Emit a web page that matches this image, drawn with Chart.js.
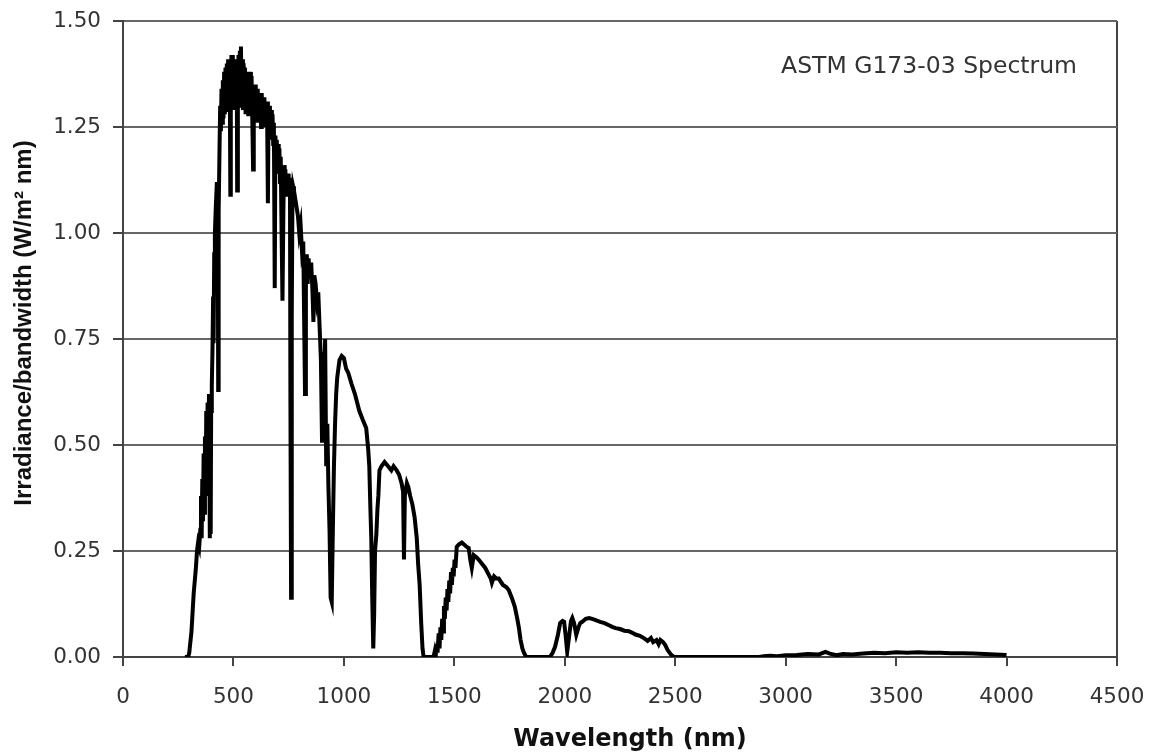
<!DOCTYPE html>
<html>
<head>
<meta charset="utf-8">
<script src="https://cdn.jsdelivr.net/npm/chart.js@4"></script>
<style>
  body { margin: 0; background: #fff; }
  canvas { display: block; }
</style>
</head>
<body>
<canvas id="myChart" width="1152" height="755"></canvas>
<script>
// spectrum: wavelength (nm) / irradiance (W/m2 nm)
let wavelength = [
  280, 295, 300, 310, 320, 330, 335, 340, 345, 350, 353, 356, 359, 362, 365, 368, 371, 374, 377, 380,
  383, 386, 389, 391, 393, 395, 397, 399, 402, 405, 408, 410, 413, 416, 420, 425, 429, 431, 433, 437,
  440, 443, 446, 449, 452, 455, 458, 461, 464, 467, 470, 473, 476, 479, 482, 484, 486, 488, 491, 494,
  497, 500, 503, 506, 509, 512, 515, 517, 520, 523, 526, 529, 532, 534, 537, 540, 543, 546, 549, 552,
  555, 558, 561, 564, 567, 570, 573, 576, 579, 582, 585, 589, 592, 595, 598, 601, 604, 607, 610, 613,
  616, 619, 622, 625, 628, 631, 634, 637, 640, 643, 646, 649, 652, 656, 659, 662, 665, 668, 671, 674,
  677, 680, 683, 687, 690, 693, 696, 699, 702, 705, 708, 711, 714, 718, 722, 726, 729, 732, 735, 738,
  741, 744, 747, 750, 753, 756, 758, 761, 764, 767, 770, 774, 780, 786, 792, 798, 804, 810, 816, 820,
  824, 828, 832, 836, 840, 846, 852, 858, 862, 866, 872, 878, 884, 890, 896, 901, 905, 910, 915, 920,
  925, 930, 935, 940, 945, 950, 955, 960, 965, 970, 975, 980, 990, 1000, 1010, 1020, 1034, 1050, 1070, 1085,
  1101, 1110, 1115, 1120, 1124, 1128, 1133, 1137, 1141, 1147, 1152, 1156, 1161, 1170, 1184, 1200, 1215, 1225, 1239, 1250,
  1261, 1268, 1272, 1276, 1285, 1292, 1300, 1310, 1320, 1330, 1336, 1343, 1350, 1356, 1361, 1406, 1412, 1416, 1420, 1424,
  1429, 1433, 1437, 1441, 1445, 1449, 1453, 1457, 1461, 1465, 1469, 1473, 1477, 1481, 1485, 1489, 1493, 1497, 1501, 1505,
  1511, 1520, 1534, 1545, 1555, 1565, 1572, 1579, 1588, 1600, 1610, 1625, 1640, 1655, 1665, 1670, 1680, 1690, 1701, 1720,
  1735, 1746, 1760, 1774, 1785, 1792, 1800, 1808, 1815, 1825, 1933, 1945, 1956, 1968, 1979, 1990, 1997, 2004, 2011, 2020,
  2028, 2034, 2042, 2052, 2062, 2070, 2079, 2095, 2110, 2124, 2140, 2160, 2180, 2200, 2215, 2230, 2250, 2270, 2290, 2306,
  2320, 2340, 2360, 2375, 2390, 2400, 2415, 2425, 2433, 2445, 2455, 2465, 2480, 2495, 2880, 2900, 2930, 2960, 3000, 3050,
  3100, 3150, 3180, 3200, 3230, 3260, 3300, 3350, 3400, 3450, 3500, 3550, 3600, 3650, 3700, 3750, 3800, 3850, 3900, 3950,
  4000
];
let irradiance = [
  0, 0, 0.01, 0.06, 0.15, 0.21, 0.25, 0.27, 0.26, 0.30, 0.38, 0.28, 0.42, 0.32, 0.48, 0.34, 0.52, 0.38, 0.58, 0.40,
  0.60, 0.45, 0.62, 0.48, 0.28, 0.56, 0.29, 0.58, 0.64, 0.72, 0.85, 0.74, 0.95, 1.00, 1.06, 1.12, 1.05, 0.63, 1.05, 1.20,
  1.30, 1.24, 1.34, 1.26, 1.36, 1.27, 1.38, 1.28, 1.39, 1.29, 1.40, 1.30, 1.41, 1.29, 1.40, 1.30, 1.09, 1.35, 1.42, 1.30,
  1.42, 1.31, 1.41, 1.29, 1.40, 1.30, 1.39, 1.10, 1.35, 1.42, 1.30, 1.43, 1.32, 1.44, 1.31, 1.41, 1.29, 1.40, 1.30, 1.39,
  1.28, 1.38, 1.29, 1.38, 1.28, 1.37, 1.29, 1.38, 1.28, 1.37, 1.28, 1.15, 1.35, 1.27, 1.35, 1.26, 1.34, 1.27, 1.34, 1.26,
  1.33, 1.26, 1.33, 1.25, 1.33, 1.26, 1.32, 1.25, 1.32, 1.26, 1.31, 1.25, 1.31, 1.07, 1.30, 1.24, 1.30, 1.23, 1.29, 1.22,
  1.28, 1.21, 1.26, 0.87, 1.23, 1.17, 1.22, 1.16, 1.21, 1.14, 1.20, 1.12, 1.18, 1.00, 0.84, 1.05, 1.16, 1.10, 1.15, 1.09,
  1.14, 1.10, 1.14, 1.09, 1.13, 1.10, 0.60, 0.14, 0.80, 1.08, 1.11, 1.10, 1.08, 1.06, 1.04, 1.00, 1.02, 0.96, 0.98, 0.80,
  0.62, 0.90, 0.95, 0.88, 0.94, 0.90, 0.93, 0.86, 0.79, 0.90, 0.88, 0.84, 0.86, 0.78, 0.70, 0.51, 0.72, 0.60, 0.75, 0.45,
  0.55, 0.40, 0.30, 0.14, 0.13, 0.30, 0.45, 0.55, 0.62, 0.66, 0.68, 0.70, 0.71, 0.705, 0.68, 0.67, 0.645, 0.62, 0.58, 0.56,
  0.54, 0.49, 0.45, 0.35, 0.28, 0.15, 0.02, 0.10, 0.25, 0.29, 0.35, 0.38, 0.44, 0.45, 0.46, 0.45, 0.44, 0.45, 0.44, 0.43,
  0.41, 0.39, 0.23, 0.38, 0.41, 0.40, 0.38, 0.36, 0.33, 0.28, 0.22, 0.17, 0.08, 0.02, 0, 0, 0.015, 0.005, 0.03, 0.01,
  0.056, 0.02, 0.07, 0.04, 0.09, 0.06, 0.12, 0.09, 0.14, 0.11, 0.16, 0.13, 0.18, 0.15, 0.20, 0.17, 0.21, 0.19, 0.23, 0.21,
  0.26, 0.265, 0.27, 0.265, 0.26, 0.257, 0.23, 0.21, 0.24, 0.235, 0.23, 0.22, 0.21, 0.195, 0.185, 0.175, 0.19, 0.185, 0.185, 0.17,
  0.165, 0.158, 0.14, 0.118, 0.09, 0.07, 0.04, 0.02, 0.01, 0, 0, 0.01, 0.024, 0.05, 0.08, 0.085, 0.083, 0.05, 0.012, 0.05,
  0.085, 0.092, 0.08, 0.052, 0.07, 0.08, 0.083, 0.09, 0.092, 0.09, 0.087, 0.083, 0.08, 0.075, 0.071, 0.068, 0.066, 0.062, 0.061, 0.057,
  0.053, 0.05, 0.044, 0.038, 0.045, 0.035, 0.04, 0.03, 0.04, 0.035, 0.028, 0.017, 0.006, 0, 0, 0.002, 0.003, 0.002, 0.004, 0.005,
  0.007, 0.006, 0.012, 0.008, 0.004, 0.007, 0.006, 0.008, 0.01, 0.009, 0.011, 0.01, 0.011, 0.01, 0.01, 0.009, 0.009, 0.008, 0.007, 0.006,
  0.005
];
let xTicks = ["0", "500", "1000", "1500", "2000", "2500", "3000", "3500", "4000", "4500"];
let yTicks = ["0.00", "0.25", "0.50", "0.75", "1.00", "1.25", "1.50"];
let xTitle = "Wavelength (nm)";
let yTitle = "Irradiance/bandwidth (W/m\u00B2 nm)";
let label = "ASTM G173-03 Spectrum";

let points = wavelength.map((w, i) => ({ x: w, y: irradiance[i] }));

// Achsentitel und Beschriftung selbst zeichnen (Position wie im Original)
const textPlugin = {
  id: "textPlugin",
  afterDraw(chart) {
    const c = chart.ctx;
    const area = chart.chartArea;
    c.save();
    c.fillStyle = "#333";
    c.textBaseline = "middle";
    c.font = "23.5px 'DejaVu Sans', sans-serif";
    c.textAlign = "right";
    c.fillText(label, area.right - 40, 67);

    c.fillStyle = "#111";
    c.textAlign = "center";
    c.font = "bold 24px 'DejaVu Sans', sans-serif";
    c.fillText(xTitle, area.left + (area.right - area.left) / 2 + 10, 740);

    c.translate(24, 323);
    c.rotate(-Math.PI / 2);
    c.font = "bold 24px 'Liberation Sans', Arial, sans-serif";
    c.fillText(yTitle, 0, 0);
    c.restore();
  },
};

let ctx = document.getElementById("myChart").getContext("2d");
let myChart = new Chart(ctx, {
  type: "scatter",
  data: {
    datasets: [
      {
        data: points,
        showLine: true,
        borderColor: "#000",
        borderWidth: 4,
        pointRadius: 0,
        tension: 0,
      },
    ],
  },
  options: {
    responsive: false,
    animation: false,
    layout: { padding: { top: 21, right: 35, left: 0, bottom: 0 } },
    plugins: { legend: { display: false }, tooltip: { enabled: false } },
    scales: {
      x: {
        type: "linear",
        min: 0,
        max: 4500,
        afterFit: (scale) => {
          scale.height = 98;
          scale.paddingLeft = 0;
          scale.paddingRight = 0;
        },
        ticks: {
          stepSize: 500,
          color: "#333",
          padding: 19,
          maxRotation: 0,
          font: { family: "'DejaVu Sans', sans-serif", size: 21.5 },
          callback: (value, index) => xTicks[index],
        },
        grid: {
          color: (c) => (c.tick && c.tick.value === 4500 ? "#444" : "rgba(0,0,0,0)"),
          lineWidth: 2,
          tickLength: 9,
          tickColor: "#444",
        },
        border: { display: true, color: "#444", width: 2 },
      },
      y: {
        type: "linear",
        min: 0,
        max: 1.5,
        afterFit: (scale) => {
          scale.width = 123;
          scale.paddingTop = 0;
          scale.paddingBottom = 0;
        },
        ticks: {
          stepSize: 0.25,
          color: "#333",
          padding: 12,
          font: { family: "'DejaVu Sans', sans-serif", size: 21.5 },
          callback: (value, index) => yTicks[index],
        },
        grid: {
          color: "#666",
          lineWidth: 2,
          tickLength: 10,
          tickColor: "#444",
        },
        border: { display: true, color: "#444", width: 2 },
      },
    },
  },
  plugins: [textPlugin],
});
</script>
</body>
</html>
